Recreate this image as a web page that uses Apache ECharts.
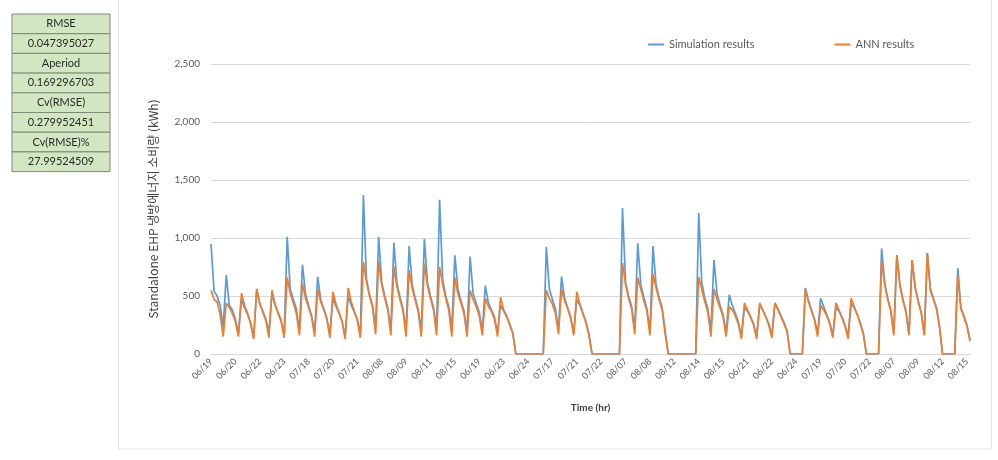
<!DOCTYPE html>
<html>
<head>
<meta charset="utf-8">
<script src="https://cdn.jsdelivr.net/npm/echarts@6/dist/echarts.min.js"></script>
<style>
  html, body { margin: 0; padding: 0; background: #fff; }
  #chart { width: 998px; height: 460px; }
</style>
</head>
<body>
<div id="chart"></div>
<script>
// one date per day, 5 samples per day
var days = ['06/19','06/20','06/21','06/22','06/23','07/17','07/18','07/19','07/20','07/21',
  '08/07','08/08','08/09','08/10','08/11','08/14','08/15','06/19','06/20','06/23',
  '06/24','06/25','07/17','07/18','07/21','07/22','07/23','08/07','08/08','08/09',
  '08/12','08/13','08/14','08/15','06/20','06/21','06/22','06/23','06/24','07/18',
  '07/19','07/20','07/21','07/22','08/07','08/08','08/09','08/10','08/12','08/15'];
var samplesPerDay = 5;

var simulation = [
  950,540,500,420,230,  680,420,380,300,180,  470,400,340,270,140,  560,430,370,300,190,  520,420,360,290,170,
  1010,560,470,390,200, 770,520,420,330,190,  665,470,390,310,170,  480,410,350,280,150,  500,420,360,300,160,
  1370,650,510,420,230, 1010,620,500,400,210, 960,610,490,390,200,  930,600,480,380,200,  990,620,500,400,210,
  1330,640,500,410,220, 850,560,460,370,190,  840,520,440,360,200,  590,440,380,320,180,  420,370,320,260,180,
  0,0,0,0,0,            0,0,0,0,0,            925,560,470,390,210,  667,480,400,320,180,  470,420,350,280,170,
  0,0,0,0,0,            0,0,0,0,0,            1258,620,500,410,220, 955,600,490,390,200,  930,600,490,400,200,
  0,0,0,0,0,            0,0,0,0,0,            1215,620,480,390,200, 810,520,420,340,180,  510,420,350,280,150,
  400,370,320,260,150,  420,380,320,260,160,  440,390,330,270,200,  0,0,0,0,0,            570,460,380,300,170,
  480,410,340,270,160,  400,370,320,250,150,  440,400,340,270,180,  0,0,0,0,0,            910,620,480,380,180,
  853,600,470,370,170,  810,580,460,360,170,  870,560,480,400,240,  0,0,0,0,0,            740,400,330,250,120
];
var annResults = [
  550,470,450,340,150,  440,400,350,280,150,  525,420,350,260,130,  560,440,360,290,140,  550,430,350,280,140,
  660,520,440,350,160,  610,480,400,320,150,  560,450,380,300,140,  537,430,360,280,130,  570,450,370,290,140,
  795,620,500,400,170,  800,600,480,380,160,  750,580,470,370,150,  720,570,460,360,150,  780,590,480,380,160,
  750,600,480,380,150,  660,520,440,350,150,  550,470,410,330,160,  480,410,370,300,150,  490,380,330,250,180,
  0,0,0,0,0,            0,0,0,0,0,            550,480,430,350,170,  560,460,390,310,160,  537,430,350,270,160,
  0,0,0,0,0,            0,0,0,0,0,            785,600,480,390,170,  660,560,460,370,160,  690,570,470,380,170,
  0,0,0,0,0,            0,0,0,0,0,            665,560,450,360,150,  560,470,400,320,150,  410,380,330,260,130,
  440,380,320,250,130,  440,380,320,250,140,  440,380,320,260,190,  0,0,0,0,0,            560,450,370,290,150,
  420,380,330,260,140,  440,380,310,240,130,  480,410,340,260,170,  0,0,0,0,0,            800,600,470,370,160,
  853,590,460,360,160,  810,570,450,350,160,  870,550,470,390,230,  0,0,0,0,0,            680,390,320,240,110
];

var yTicks = [0, 500, 1000, 1500, 2000, 2500];

var statLabels = ['RMSE', 'Aperiod', 'Cv(RMSE)', 'Cv(RMSE)%'];
var statValues = ['0.047395027', '0.169296703', '0.279952451', '27.99524509'];

var categories = [];
days.forEach(function (d) {
  for (var k = 0; k < samplesPerDay; k++) categories.push(d);
});

// stats table on the left
var tableItems = [];
var rowH = 19.7;
statLabels.forEach(function (lab, i) {
  [lab, statValues[i]].forEach(function (txt, j) {
    var y = 14 + (i * 2 + j) * rowH;
    tableItems.push({
      type: 'rect',
      shape: { x: 12, y: y, width: 98, height: rowH },
      style: { fill: '#d3e6c2', stroke: '#7d8a74', lineWidth: 1 }
    });
    tableItems.push({
      type: 'text',
      x: 61, y: y + rowH / 2,
      style: { text: txt, fill: '#2a2a2a', font: '11px Lato, "Liberation Sans", sans-serif', align: 'center', verticalAlign: 'middle' }
    });
  });
});

var chart = echarts.init(document.getElementById('chart'));
var option = {
  animation: false,
  textStyle: { fontFamily: 'Lato, "Noto Sans CJK KR", sans-serif' },
  graphic: [{
    type: 'rect',
    shape: { x: 118.5, y: -1, width: 873, height: 450 },
    style: { fill: 'none', stroke: '#e3e3e3', lineWidth: 1 },
    z: -1
  }].concat(tableItems),
  legend: {
    left: 643,
    top: 34,
    itemGap: 80,
    itemWidth: 16,
    itemHeight: 2,
    icon: 'rect',
    textStyle: { color: '#595959', fontSize: 11 },
    data: ['Simulation results', 'ANN results']
  },
  grid: { left: 211, right: 28, top: 64, bottom: 106 },
  xAxis: {
    type: 'category',
    data: categories,
    boundaryGap: false,
    name: 'Time (hr)',
    nameLocation: 'middle',
    nameGap: 49,
    nameTextStyle: { color: '#404040', fontSize: 10, fontWeight: 'bold' },
    axisLine: { lineStyle: { color: '#d9d9d9' } },
    axisTick: { show: false },
    axisLabel: {
      interval: 7,
      rotate: 45,
      margin: 6,
      color: '#595959',
      fontSize: 9
    }
  },
  yAxis: {
    type: 'value',
    min: yTicks[0],
    max: yTicks[yTicks.length - 1],
    interval: 500,
    name: 'Standalone EHP 냉방에너지 소비량 (kWh)',
    nameLocation: 'middle',
    nameRotate: 90,
    nameGap: 52,
    nameTextStyle: { color: '#404040', fontSize: 12, fontFamily: '"Noto Sans CJK KR", Lato, sans-serif' },
    axisLine: { show: false },
    axisTick: { show: false },
    axisLabel: {
      margin: 11,
      color: '#595959',
      fontSize: 10,
      formatter: function (v) { return v.toLocaleString('en-US'); }
    },
    splitLine: { lineStyle: { color: '#d9d9d9', width: 1 } }
  },
  series: [
    {
      name: 'Simulation results',
      type: 'line',
      data: simulation,
      symbol: 'none',
      color: '#5b9bd5',
      lineStyle: { width: 1.7, color: '#5b9bd5' }
    },
    {
      name: 'ANN results',
      type: 'line',
      data: annResults,
      symbol: 'none',
      color: '#ed7d31',
      lineStyle: { width: 1.7, color: '#ed7d31' }
    }
  ]
};
chart.setOption(option);
</script>
</body>
</html>
